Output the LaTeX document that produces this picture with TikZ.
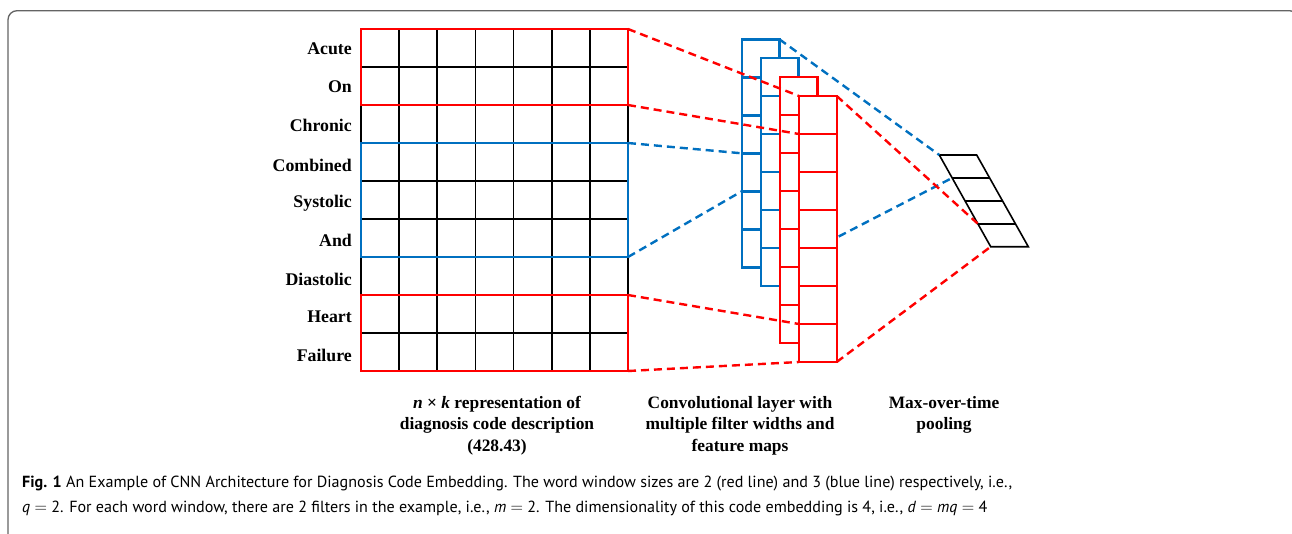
\documentclass[tikz,border=0pt]{standalone}
\usepackage{fontspec}
\setmainfont{Liberation Serif}
\newfontfamily\capfont{PT Sans}
\usetikzlibrary{calc}
\definecolor{myred}{RGB}{255,0,0}
\definecolor{myblue}{RGB}{0,112,192}
\definecolor{framegray}{RGB}{100,100,100}
\newcommand\fmap[6]{%
  \node[draw=#2, fill=white, line width=2.4pt, minimum width=37.7pt, minimum height=#5*38pt, inner sep=0pt, outer sep=0pt, anchor=north west] (#1) at (#3,#4) {};
  \foreach \k in {1,...,#6} \draw[draw=#2, line width=2.4pt] ($(#1.north west)+(0,38*\k)$) -- ($(#1.north east)+(0,38*\k)$);
}
\begin{document}
\begin{tikzpicture}[x=1pt,y=-1pt,
  gridline/.style={black, line width=1.6pt},
  winbox/.style={line width=2.4pt, minimum width=267pt, inner sep=0pt, outer sep=0pt, anchor=north west},
  rdash/.style={myred, line width=2.4pt, dash pattern=on 8pt off 5pt},
  bdash/.style={myblue, line width=2.4pt, dash pattern=on 8pt off 5pt},
  word/.style={anchor=east, font=\fontsize{17.8}{20}\selectfont\bfseries, inner sep=0pt},
  lab/.style={anchor=north, font=\fontsize{17.4}{21.5}\selectfont\bfseries, align=center, inner sep=0pt}
]
\useasboundingbox (0,0) rectangle (1292,533);
\begin{scope}
\clip (0,0) rectangle (1292,533);
\draw[framegray, line width=1.3pt, rounded corners=9pt] (8,10.7) rectangle (1298.5,560);
\end{scope}

% embedding grid
\node[draw=black, line width=1.6pt, minimum width=267pt, minimum height=342pt, inner sep=0pt, outer sep=0pt, anchor=north west] (grid) at (361,29) {};
\foreach \i in {1,...,8} \draw[gridline] ($(grid.north west)+(0,38*\i)$) -- ($(grid.north east)+(0,38*\i)$);
\foreach \j in {1,...,6} \draw[gridline] ($(grid.north west)+(267/7*\j,0)$) -- ($(grid.south west)+(267/7*\j,0)$);

% word windows
\node[winbox, draw=myred, minimum height=76pt] (rwa) at (361,29) {};
\node[winbox, draw=myblue, minimum height=114pt] (bwa) at (361,143) {};
\node[winbox, draw=myred, minimum height=76pt] (rwb) at (361,295) {};

% words
\node[word] (w1) at (352,49) {Acute};
\node[word] (w2) at (352,87) {On};
\node[word] (w3) at (352,125) {Chronic};
\node[word] (w4) at (352,165) {Combined};
\node[word] (w5) at (352,203) {Systolic};
\node[word] (w6) at (352,240) {And};
\node[word] (w7) at (352,279) {Diastolic};
\node[word] (w8) at (352,317) {Heart};
\node[word] (w9) at (352,355) {Failure};

% feature maps
\fmap{b1}{myblue}{741.7}{39.3}{6}{5}
\fmap{b2}{myblue}{760.7}{57.7}{6}{5}
\fmap{r1}{myred}{779.7}{77}{7}{6}
\fmap{r2}{myred}{799}{96}{7}{6}

% pooling
\coordinate (pTL) at (939.3,155);
\coordinate (pTR) at (976.7,155);
\coordinate (pBL) at (990.7,246.7);
\coordinate (pBR) at (1028.3,246.7);
\draw[black, line width=1.6pt, line join=miter] (pTL) -- (pTR) -- (pBR) -- (pBL) -- cycle;
\foreach \f in {0.25,0.5,0.75} \draw[black, line width=1.6pt] ($(pTL)!\f!(pBL)$) -- ($(pTR)!\f!(pBR)$);
\coordinate (pL1) at ($(pTL)!0.25!(pBL)$);
\coordinate (pL3) at ($(pTL)!0.75!(pBL)$);

% connectors
\coordinate (r2c1) at ($(r2.north west)+(0,38)$);
\coordinate (r2c6) at ($(r2.north west)+(0,228)$);
\coordinate (b1c3) at ($(b1.north west)+(0,114)$);
\coordinate (b1c4) at ($(b1.north west)+(0,152)$);
\coordinate (bsrc) at ($(r2.north east)+(2,140.5)$);
\draw[rdash] (rwa.north east) -- (r2.north west);
\draw[rdash] (rwa.south east) -- (r2c1);
\draw[bdash] (bwa.north east) -- (b1c3);
\draw[bdash] (bwa.south east) -- (b1c4);
\draw[rdash] (rwb.north east) -- (r2c6);
\draw[rdash] (rwb.south east) -- (r2.south west);
\draw[bdash] (b1.north east) -- (pTL);
\draw[bdash] (bsrc) -- (pL1);
\draw[rdash] (r2.north east) -- (pL3);
\draw[rdash] (r2.south east) -- (pBL);

% stage labels
\node[lab] (l1) at (497,396) {\textit{n} × \textit{k} representation of\\diagnosis code description\\(428.43)};
\node[lab] (l2) at (740,396) {Convolutional layer with\\multiple filter widths and\\feature maps};
\node[lab] (l3) at (944,396) {Max-over-time\\pooling};

% caption
\node[anchor=north west, inner sep=0pt, align=left, font=\capfont\fontsize{16.1}{25.5}\selectfont] (cap) at (22,475.5) {\textbf{Fig. 1} An Example of CNN Architecture for Diagnosis Code Embedding. The word window sizes are 2 (red line) and 3 (blue line) respectively, i.e.,\\\textit{q} $=$ 2. For each word window, there are 2 filters in the example, i.e., \textit{m} $=$ 2. The dimensionality of this code embedding is 4, i.e., \textit{d} $=$ \textit{mq} $=$ 4};
\end{tikzpicture}
\end{document}
